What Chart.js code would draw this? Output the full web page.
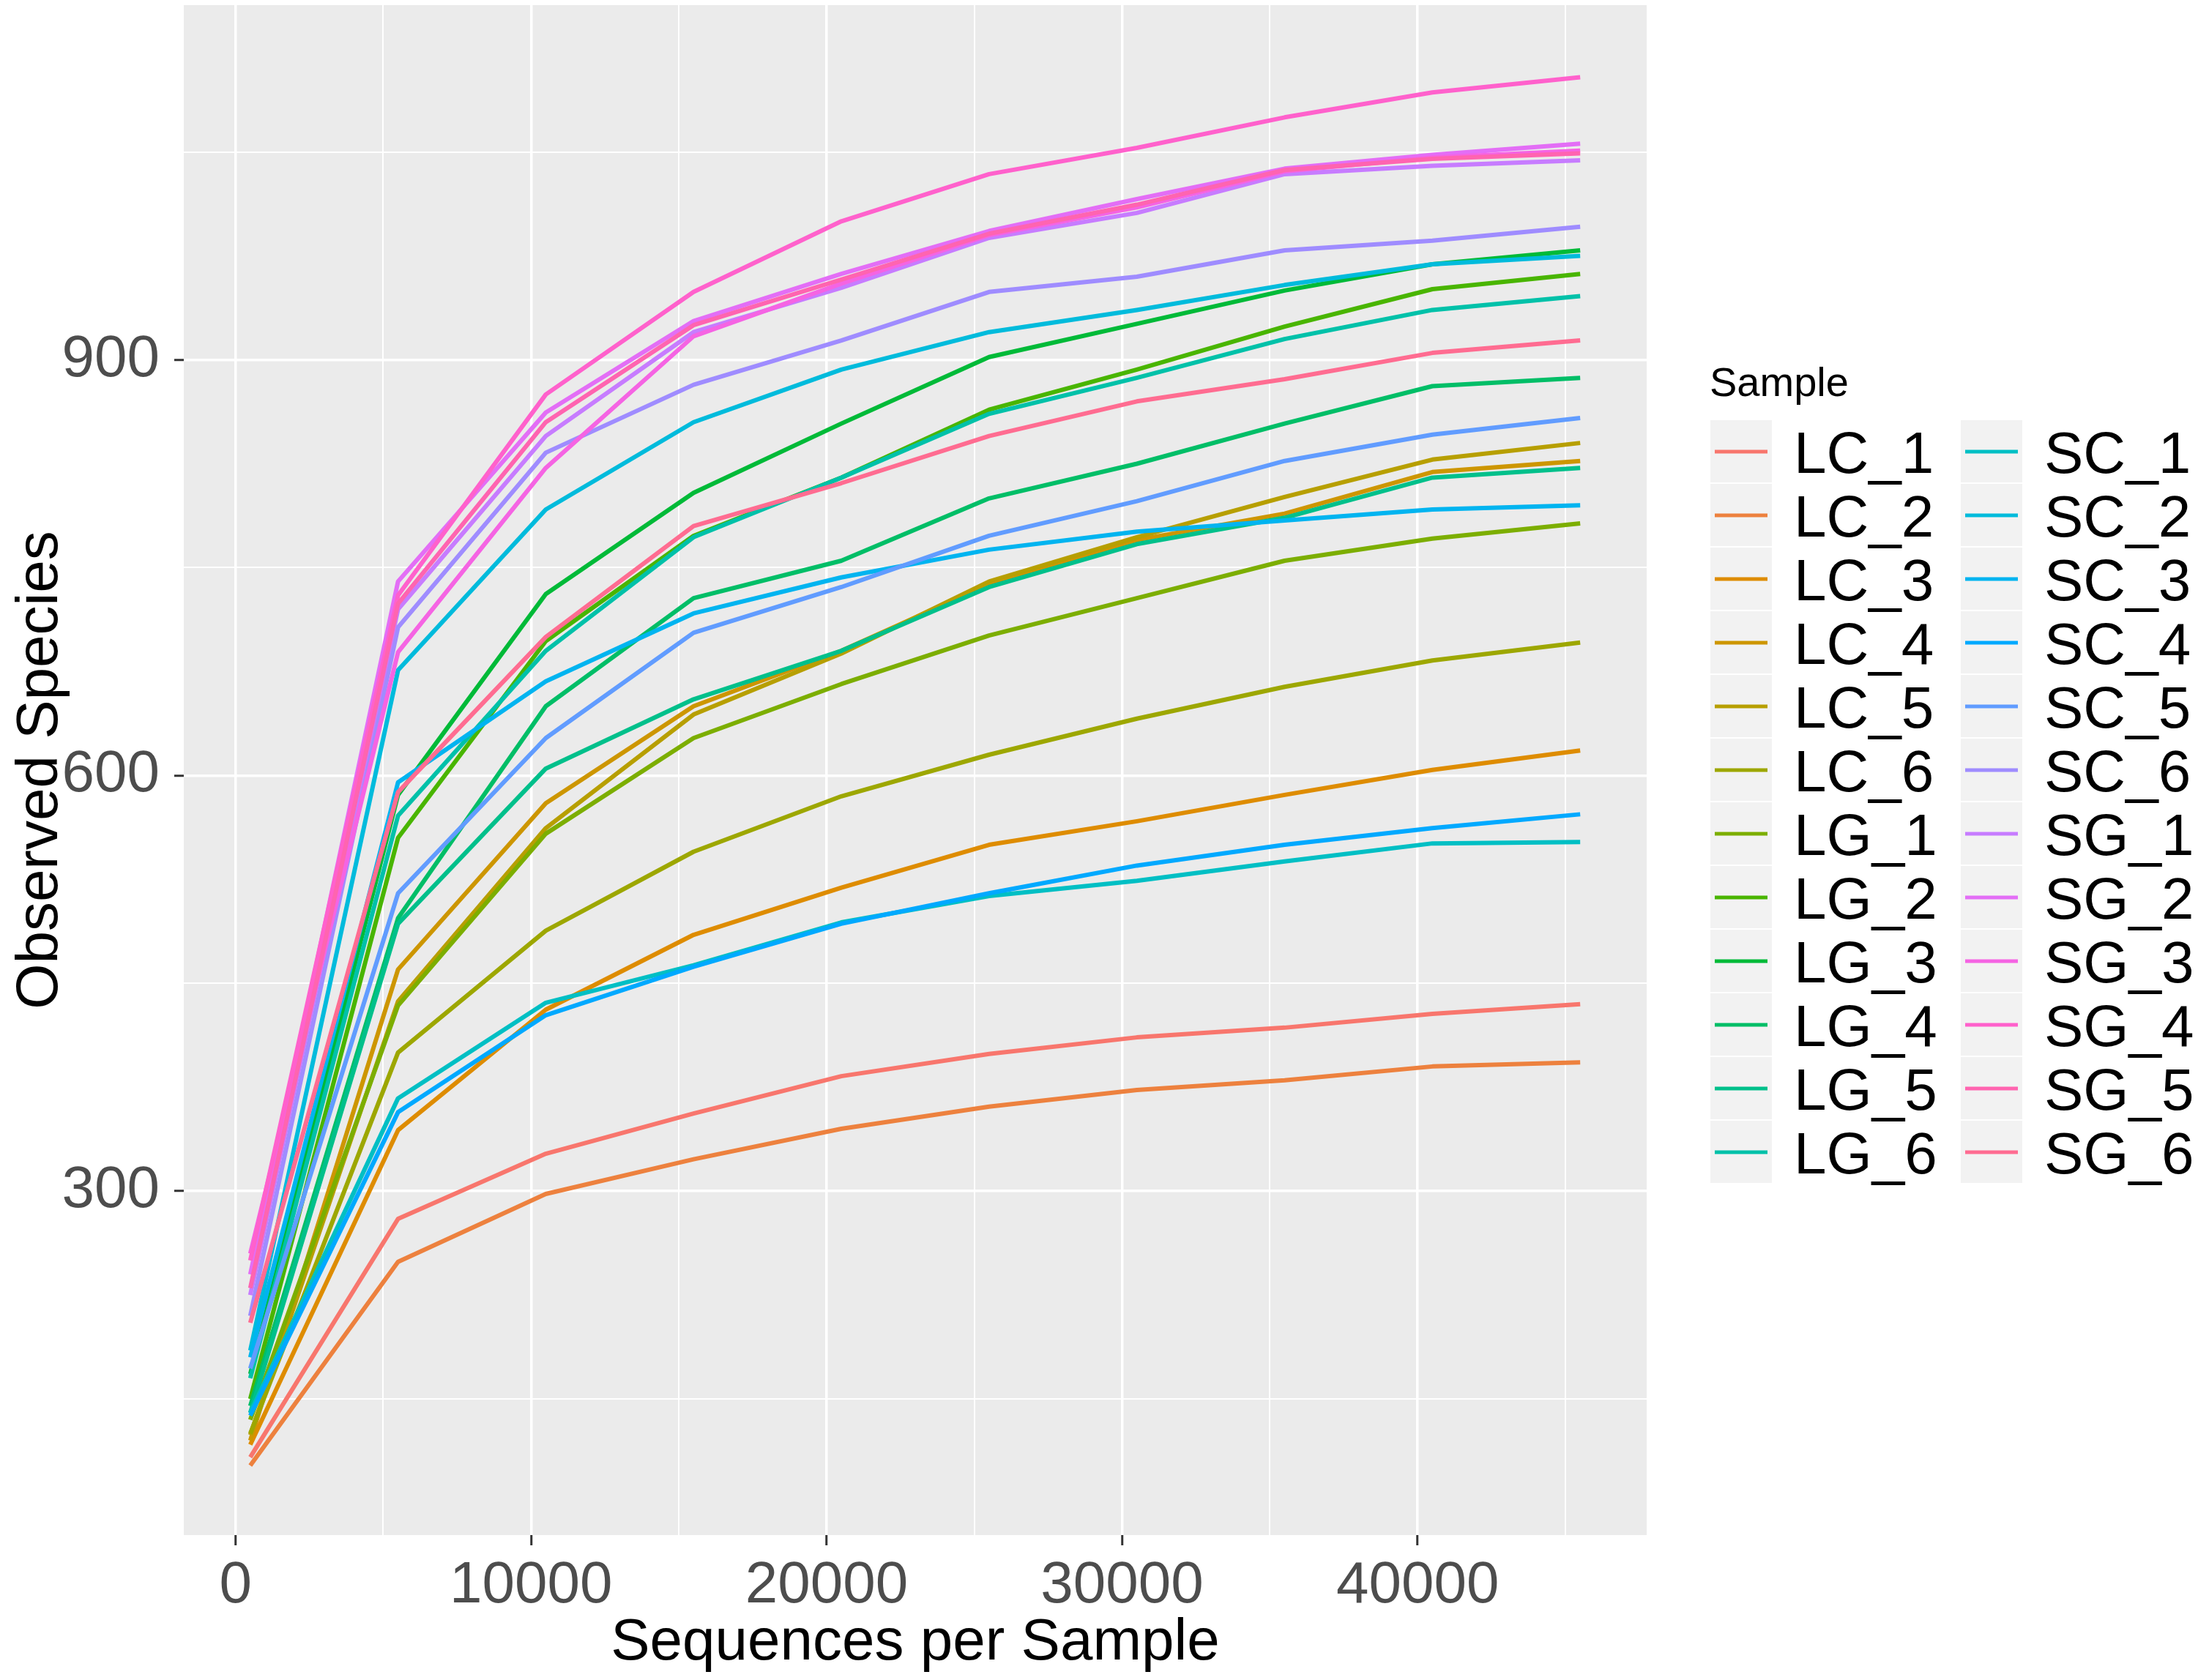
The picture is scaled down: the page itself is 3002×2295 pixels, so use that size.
<!DOCTYPE html>
<html>
<head>
<meta charset="utf-8">
<script src="https://cdn.jsdelivr.net/npm/chart.js"></script>
<style>
  html, body { margin: 0; padding: 0; background: #ffffff; }
  canvas { display: block; }
</style>
</head>
<body>
<canvas id="rarefaction" width="3002" height="2295"></canvas>
<script>
// rarefaction depths (x) and observed species per sample (y)
const depths = [500, 5500, 10500, 15500, 20500, 25500, 30500, 35500, 40500, 45500];
const xTicks = [0, 5000, 10000, 15000, 20000, 25000, 30000, 35000, 40000, 45000];
const yTicks = [150, 300, 450, 600, 750, 900, 1050];

const sampleNames = ['LC_1', 'LC_2', 'LC_3', 'LC_4', 'LC_5', 'LC_6',
                     'LG_1', 'LG_2', 'LG_3', 'LG_4', 'LG_5', 'LG_6',
                     'SC_1', 'SC_2', 'SC_3', 'SC_4', 'SC_5', 'SC_6',
                     'SG_1', 'SG_2', 'SG_3', 'SG_4', 'SG_5', 'SG_6'];

const lc1 = [108, 280, 327, 356, 383, 399, 411, 418, 428, 435];
const lc2 = [102, 249, 298, 323, 345, 361, 373, 380, 390, 393];
const lc3 = [117, 344, 431, 485, 519, 550, 567, 586, 604, 618];
const lc4 = [120, 460, 580, 650, 690, 738, 770, 789, 819, 827];
const lc5 = [124, 437, 562, 644, 688, 740, 772, 801, 828, 840];
const lc6 = [125, 400, 488, 545, 585, 615, 641, 664, 683, 696];
const lg1 = [135, 434, 558, 627, 666, 701, 728, 755, 771, 782];
const lg2 = [150, 555, 697, 773, 815, 864, 893, 924, 951, 962];
const lg3 = [168, 586, 731, 804, 854, 902, 926, 950, 969, 979];
const lg4 = [145, 497, 650, 728, 755, 800, 825, 854, 881, 887];
const lg5 = [140, 493, 605, 655, 690, 736, 767, 786, 815, 822];
const lg6 = [165, 571, 690, 772, 815, 861, 887, 915, 936, 946];
const sc1 = [140, 367, 436, 463, 494, 513, 524, 538, 551, 552];
const sc2 = [185, 676, 792, 855, 893, 920, 936, 954, 969, 975];
const sc3 = [180, 595, 668, 717, 743, 763, 776, 784, 792, 795];
const sc4 = [138, 357, 427, 462, 493, 515, 535, 550, 562, 572];
const sc5 = [172, 515, 627, 703, 736, 773, 798, 827, 846, 858];
const sc6 = [210, 707, 833, 882, 914, 949, 960, 979, 986, 996];
const sg1 = [225, 720, 845, 920, 952, 988, 1006, 1034, 1040, 1044];
const sg2 = [240, 740, 862, 928, 962, 993, 1016, 1038, 1048, 1056];
const sg3 = [255, 689, 822, 917, 955, 990, 1010, 1036, 1046, 1051];
const sg4 = [250, 730, 875, 949, 1000, 1034, 1053, 1075, 1093, 1104];
const sg5 = [230, 724, 855, 925, 958, 991, 1012, 1037, 1045, 1049];
const sg6 = [205, 588, 700, 780, 811, 845, 870, 886, 905, 914];

const sampleValues = [lc1, lc2, lc3, lc4, lc5, lc6, lg1, lg2, lg3, lg4, lg5, lg6,
                      sc1, sc2, sc3, sc4, sc5, sc6, sg1, sg2, sg3, sg4, sg5, sg6];

// ggplot2 default hue palette (hcl, c = 100, l = 65)
function hcl(h, c, l) {
  const WX = 95.047, WY = 100, WZ = 108.883;
  const un = 4 * WX / (WX + 15 * WY + 3 * WZ);
  const vn = 9 * WY / (WX + 15 * WY + 3 * WZ);
  const hr = h * Math.PI / 180;
  const Y = WY * (l > 8 ? Math.pow((l + 16) / 116, 3) : l / 903.3);
  const u = c * Math.cos(hr) / (13 * l) + un;
  const v = c * Math.sin(hr) / (13 * l) + vn;
  const X = 9 * Y * u / (4 * v);
  const Z = -X / 3 - 5 * Y + 3 * Y / v;
  const gam = t => t > 0.0031308 ? 1.055 * Math.pow(t, 1 / 2.4) - 0.055 : 12.92 * t;
  const to = t => Math.round(255 * Math.min(1, Math.max(0, gam(t))));
  const r = to((3.240479 * X - 1.537150 * Y - 0.498535 * Z) / WY);
  const g = to((-0.969256 * X + 1.875992 * Y + 0.041556 * Z) / WY);
  const b = to((0.055648 * X - 0.204043 * Y + 1.057311 * Z) / WY);
  return `rgb(${r},${g},${b})`;
}
const palette = sampleNames.map((_, i) => hcl(15 + 15 * i, 100, 65));

const FONT = "'Liberation Sans', Arial, sans-serif";

const datasets = sampleNames.map((name, i) => ({
  label: name,
  data: depths.map((d, j) => ({ x: d, y: sampleValues[i][j] })),
  borderColor: palette[i],
  backgroundColor: palette[i],
  borderWidth: 6,
  borderJoinStyle: 'round',
  pointRadius: 0,
  tension: 0,
  fill: false,
  order: sampleNames.length - i
}));

const panelBg = {
  id: 'panelBg',
  beforeDraw(chart) {
    const { ctx, chartArea: a } = chart;
    ctx.save();
    ctx.fillStyle = '#EBEBEB';
    ctx.fillRect(a.left, a.top, a.right - a.left, a.bottom - a.top);
    ctx.restore();
  }
};

const sampleLegend = {
  id: 'sampleLegend',
  afterDraw(chart) {
    const ctx = chart.ctx;
    ctx.save();
    ctx.fillStyle = '#000000';
    ctx.font = `56px ${FONT}`;
    ctx.textBaseline = 'alphabetic';
    ctx.fillText('Sample', 2335, 541);
    ctx.font = `80px ${FONT}`;
    chart.data.datasets.forEach((ds, i) => {
      const col = i < 12 ? 0 : 1;
      const row = i % 12;
      const keyX = col ? 2678 : 2336;
      const top = 574 + 87 * row;
      const mid = top + 43;
      ctx.fillStyle = '#F2F2F2';
      ctx.fillRect(keyX, top, 84, 85);
      ctx.strokeStyle = ds.borderColor;
      ctx.lineWidth = 5;
      ctx.beginPath();
      ctx.moveTo(keyX + 6, mid);
      ctx.lineTo(keyX + 78, mid);
      ctx.stroke();
      ctx.fillStyle = '#000000';
      ctx.fillText(ds.label, keyX + 114, mid + 29);
    });
    ctx.restore();
  }
};

new Chart(document.getElementById('rarefaction'), {
  type: 'line',
  data: { datasets },
  plugins: [panelBg, sampleLegend],
  options: {
    responsive: false,
    devicePixelRatio: 1,
    animation: false,
    layout: { padding: { left: 0, top: 7, right: 753, bottom: 0 } },
    plugins: { legend: { display: false }, tooltip: { enabled: false } },
    scales: {
      x: {
        type: 'linear',
        min: -1750,
        max: 47750,
        afterBuildTicks: axis => { axis.ticks = xTicks.map(v => ({ value: v })); },
        afterFit: axis => {
          axis.height = 198;
          axis.paddingLeft = 0;
          axis.paddingRight = 0;
        },
        border: { display: false },
        grid: {
          color: '#FFFFFF',
          lineWidth: c => (c.tick && c.tick.value % 10000 === 0) ? 3.5 : 2,
          tickColor: c => (c.tick && c.tick.value % 10000 === 0) ? '#333333' : 'rgba(0,0,0,0)',
          tickWidth: 3,
          tickLength: 14
        },
        ticks: {
          autoSkip: false,
          maxRotation: 0,
          padding: 8,
          color: '#4D4D4D',
          font: { family: FONT, size: 80 },
          callback: v => v % 10000 === 0 ? String(v) : ''
        },
        title: {
          display: true,
          text: 'Sequences per Sample',
          color: '#000000',
          font: { family: FONT, size: 80, lineHeight: 1 },
          padding: { top: 0, bottom: 10 }
        }
      },
      y: {
        type: 'linear',
        min: 51.8,
        max: 1156,
        afterBuildTicks: axis => { axis.ticks = yTicks.map(v => ({ value: v })); },
        afterFit: axis => {
          axis.width = 251;
          axis.paddingTop = 0;
          axis.paddingBottom = 0;
        },
        border: { display: false },
        grid: {
          color: '#FFFFFF',
          lineWidth: c => (c.tick && c.tick.value % 300 === 0) ? 3.5 : 2,
          tickColor: c => (c.tick && c.tick.value % 300 === 0) ? '#333333' : 'rgba(0,0,0,0)',
          tickWidth: 3,
          tickLength: 13
        },
        ticks: {
          autoSkip: false,
          padding: 20,
          color: '#4D4D4D',
          font: { family: FONT, size: 80 },
          callback: v => v % 300 === 0 ? String(v) : ''
        },
        title: {
          display: true,
          text: 'Observed Species',
          color: '#000000',
          font: { family: FONT, size: 80, lineHeight: 1 },
          padding: { top: 16, bottom: 0 }
        }
      }
    }
  }
});
</script>
</body>
</html>
